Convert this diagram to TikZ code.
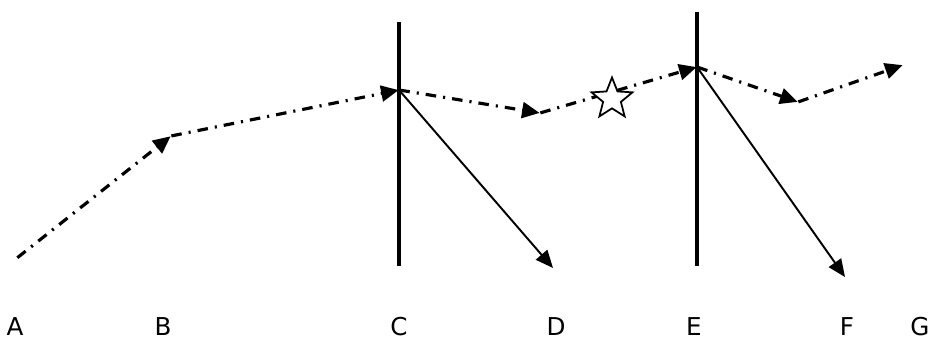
\documentclass[tikz,border=0pt]{standalone}
\usepackage{fontspec}
\newfontfamily\labelfont{DejaVu Sans}
\usetikzlibrary{arrows.meta,shapes.geometric}

\begin{document}
\begin{tikzpicture}[
	x=0.02cm, y=-0.02cm,
	pt/.style={ inner sep=0pt, minimum size=0pt },
	lbl/.style={ font=\labelfont\fontsize{14}{16}\selectfont, anchor=base, inner sep=0pt },
	ray/.style={ line width=1.8pt, dash pattern=on 6pt off 4pt on 1.2pt off 4pt, -{Triangle[length=10pt,width=9pt]} },
	beam/.style={ line width=1.1pt, -{Triangle[length=10pt,width=8.5pt]} },
	wall/.style={ line width=2.4pt },
	mark star/.style={ star, star points=5, star point ratio=2.3, draw, line width=1pt, fill=white, minimum size=0.86cm, inner sep=0pt }
]
\useasboundingbox (0,0) rectangle (928,341);

% points of the dash-dotted path, from left to right
\node at (17,258) (a) [pt] {};
\node at (171,136) (b) [pt] {};
\node at (399,90) (c) [pt] {};
\node at (540,113) (d) [pt] {};
\node at (697,67) (e) [pt] {};
\node at (798,102) (p) [pt] {};
\node at (903,65) (q) [pt] {};

% walls
\coordinate (ctop) at (399,22);
\coordinate (cbot) at (399,266);
\coordinate (etop) at (697,12);
\coordinate (ebot) at (697,266);
\draw[wall] (ctop) -- (cbot);
\draw[wall] (etop) -- (ebot);

% solid arrows leaving the walls
\coordinate (dend) at (553,268);
\coordinate (fend) at (845,277);
\draw[beam] (c) -- (dend);
\draw[beam] (e) -- (fend);

\draw[ray] (a) -- (b);
\draw[ray] (b) -- (c);
\draw[ray] (c) -- (d);
\draw[ray] (d) -- (e);
\draw[ray] (e) -- (p);
\draw[ray] (p) -- (q);

\node at (612,99) (st) [mark star] {};

% labels along the bottom
\node at (15,335) (la) [lbl] {A};
\node at (163,335) (lb) [lbl] {B};
\node at (399,335) (lc) [lbl] {C};
\node at (556,335) (ld) [lbl] {D};
\node at (694,335) (le) [lbl] {E};
\node at (847,335) (lf) [lbl] {F};
\node at (920,335) (lg) [lbl] {G};

\end{tikzpicture}
\end{document}
